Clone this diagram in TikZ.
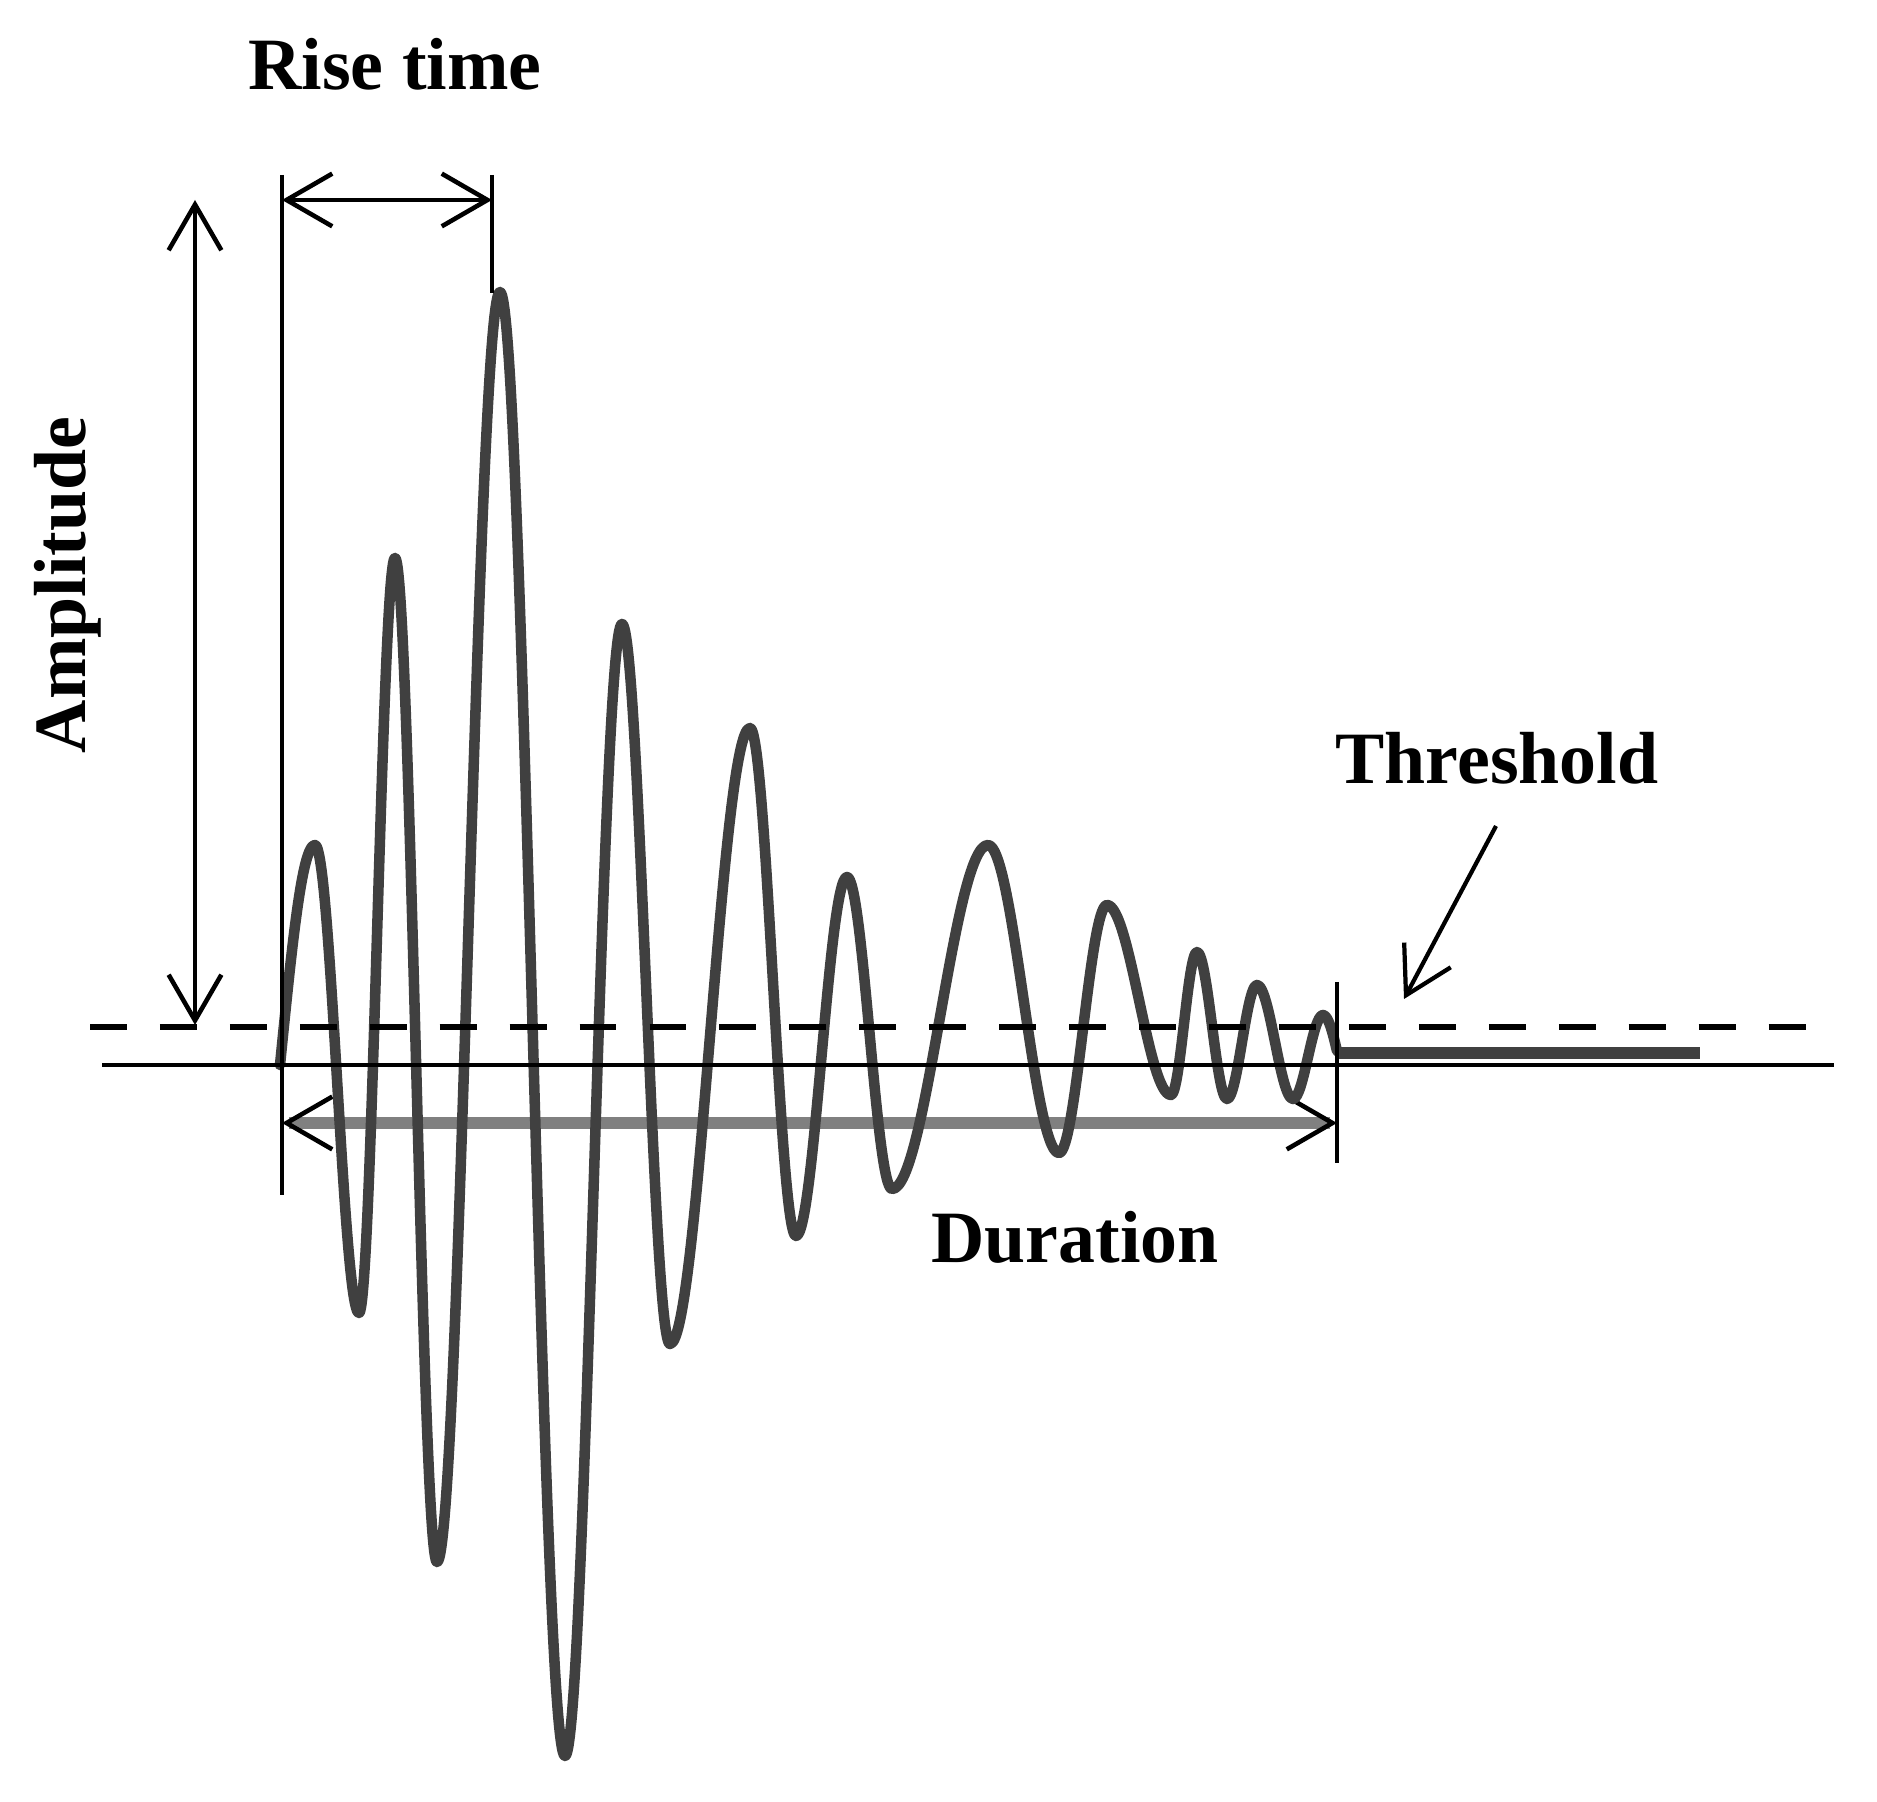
\documentclass[tikz,border=0pt]{standalone}
\usepackage{fontspec}
\setmainfont{Liberation Serif}
\usetikzlibrary{calc, positioning, arrows.meta}

\begin{document}
\begin{tikzpicture}[
        lbl/.style={font=\bfseries\fontsize{21}{25}\selectfont, inner sep=0pt},
        thinln/.style={draw=black, line width=1.4pt},
        dimarr/.style={thinln, {Straight Barb[length=13pt, width=15pt, line width=1.3pt]}-{Straight Barb[length=13pt, width=15pt, line width=1.3pt]}},
        wave/.style={draw=black!75, line width=3pt, line join=round, line cap=round},
        wv/.style={to path={.. controls ($(\tikztostart)!0.36!(\tikztotarget|-\tikztostart)$) and ($(\tikztotarget)!0.36!(\tikztostart|-\tikztotarget)$) .. (\tikztotarget)}}
    ]
    \useasboundingbox (0,0) rectangle (18.77,18.01);

    % Labels
    \node[lbl] (risetxt) at (3.95,17.37) {Rise time};
    \node[lbl, rotate=90] (amptxt) at (0.68,12.16) {Amplitude};
    \node[lbl] (durtxt) at (10.75,5.64) {Duration};
    \node[lbl] (thrtxt) at (14.97,10.43) {Threshold};

    % Marker points
    \coordinate (riseA) at (2.82,16.26);
    \coordinate (riseB) at (2.82,6.06);
    \coordinate (peakA) at (4.92,16.26);
    \coordinate (peakB) at (4.92,15.08);
    \coordinate (riseL) at (2.82,16.01);
    \coordinate (riseR) at (4.92,16.01);
    \coordinate (ampT) at (1.95,16.01);
    \coordinate (ampB) at (1.95,7.76);
    \coordinate (endA) at (13.37,8.19);
    \coordinate (endB) at (13.37,6.38);
    \coordinate (durL) at (2.82,6.78);
    \coordinate (durR) at (13.37,6.78);
    \coordinate (thrL) at (0.90,7.74);
    \coordinate (thrR) at (18.14,7.74);
    \coordinate (baseL) at (1.02,7.36);
    \coordinate (baseR) at (18.34,7.36);
    \coordinate (thrtail) at (14.96,9.75);
    \coordinate (thrtip) at (14.04,8.02);

    % Duration
    \draw[gray, line width=3.4pt, {Straight Barb[length=13pt, width=15pt, line width=1.3pt, color=black]}-{Straight Barb[length=13pt, width=15pt, line width=1.3pt, color=black]}] (durL) -- (durR);

    % Burst
    \draw[wave] (2.80,7.36) .. controls +(0.12,1.2) and +(-0.13,0) .. (3.15,9.56)
        to[wv] (3.59,4.88) to[wv] (3.95,12.43) to[wv] (4.37,2.39)
        to[wv] (5.00,15.09) to[wv] (5.65,0.45) to[wv] (6.22,11.77)
        to[wv] (6.70,4.57) to[wv] (7.50,10.73) to[wv] (7.96,5.65)
        to[wv] (8.47,9.24) to[wv] (8.92,6.12) to[wv] (9.88,9.56)
        to[wv] (10.59,6.48) to[wv] (11.07,8.96) to[wv] (11.71,7.06)
        to[wv] (11.97,8.49) to[wv] (12.27,7.02) to[wv] (12.57,8.16)
        to[wv] (12.93,7.02) to[wv] (13.23,7.86)
        .. controls +(0.06,0) and +(-0.03,0.12) .. (13.37,7.50);
    \draw[black!75, line width=3.4pt] (13.37,7.48) -- (17.00,7.48);

    % Axis and threshold
    \draw[thinln] (baseL) -- (baseR);
    \draw[black, line width=1.5pt, dash pattern=on 10.5pt off 9.4pt] (thrL) -- (thrR);

    % Rise time and amplitude
    \draw[thinln] (riseA) -- (riseB);
    \draw[thinln] (peakA) -- (peakB);
    \draw[thinln] (endA) -- (endB);
    \draw[dimarr] (riseL) -- (riseR);
    \draw[dimarr] (ampT) -- (ampB);

    % Threshold pointer
    \draw[black, line width=1.2pt, -{Straight Barb[length=13pt, width=15pt, line width=1.2pt]}] (thrtail) -- (thrtip);

\end{tikzpicture}
\end{document}
